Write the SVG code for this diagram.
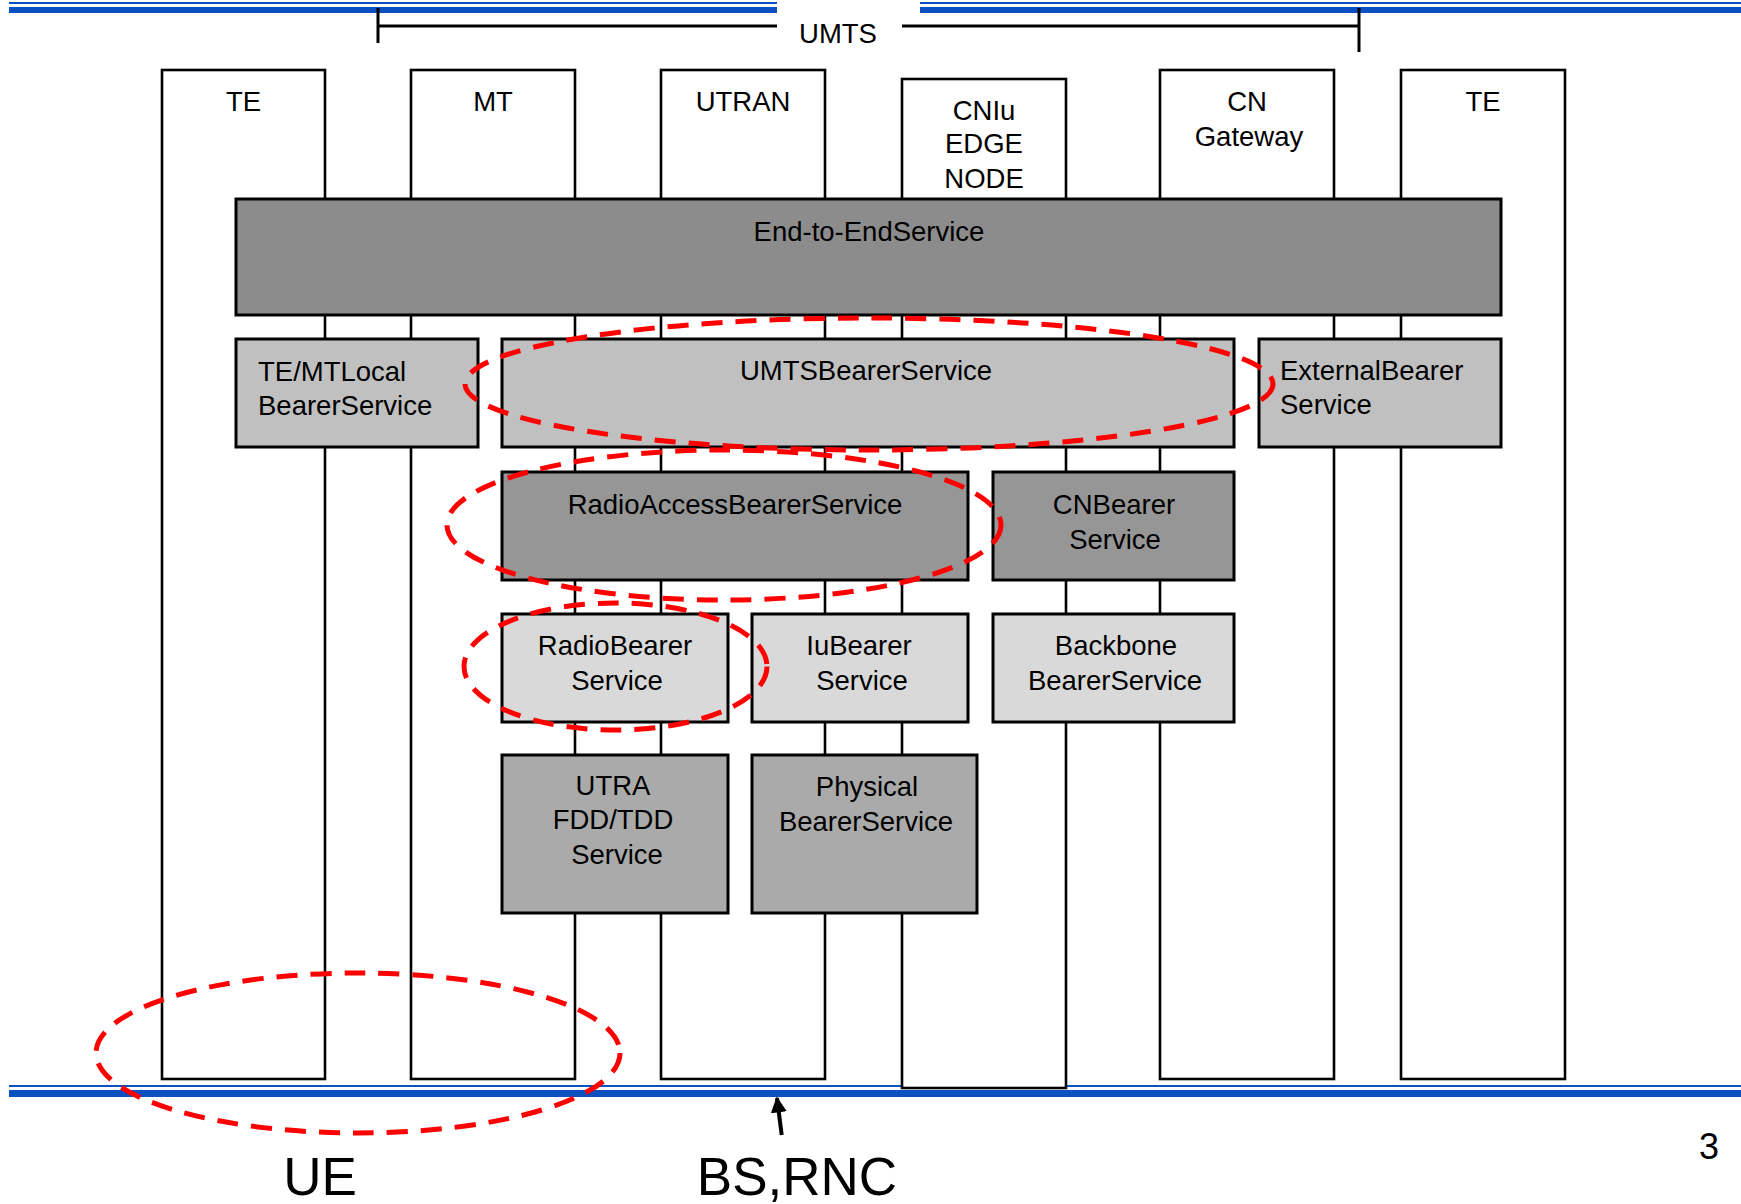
<svg xmlns="http://www.w3.org/2000/svg" width="1741" height="1204" viewBox="0 0 1741 1204">
  <defs>
    <style>
      text { font-family: "Liberation Sans", Arial, sans-serif; fill: #000; }
      .lbl { font-size: 27.5px; }
      .mid { text-anchor: middle; }
      .big { font-size: 53px; text-anchor: middle; }
      .col { fill: #fff; stroke: #000; stroke-width: 2.6; }
      .box { stroke: #000; stroke-width: 3; }
      .g1 { fill: #8c8c8c; }
      .g2 { fill: #c0c0c0; }
      .g3 { fill: #969696; }
      .g4 { fill: #d9d9d9; }
      .g5 { fill: #aaaaaa; }
      .rule { fill: #0b50c0; }
      .ring { fill: none; stroke: #ff0000; stroke-width: 5; stroke-dasharray: 21 13; }
      .brk { fill: none; stroke: #000; stroke-width: 3; }
    </style>
    <marker id="arrowhead" viewBox="0 0 10 10" refX="9" refY="5" markerWidth="4" markerHeight="4" orient="auto" markerUnits="strokeWidth">
      <path d="M0,0 L10,5 L0,10 z" fill="#000"/>
    </marker>
  </defs>

  <rect width="1741" height="1204" fill="#fff"/>

  <!-- page rules, top and bottom -->
  <g id="rules">
    <rect class="rule" x="9" y="2" width="768" height="2"/>
    <rect class="rule" x="9" y="7" width="768" height="6"/>
    <rect class="rule" x="920" y="2" width="821" height="2"/>
    <rect class="rule" x="920" y="7" width="821" height="6"/>
    <rect class="rule" x="9" y="1085" width="1732" height="2"/>
    <rect class="rule" x="9" y="1090" width="1732" height="7"/>
  </g>

  <!-- UMTS span bracket -->
  <g id="umts-span">
    <path class="brk" d="M378,8 V43 M378,26 H777 M902,26 H1359 M1359,8 V52"/>
    <text class="lbl mid" x="838" y="43">UMTS</text>
  </g>

  <!-- network element columns -->
  <g id="col-te-left">
    <rect class="col" x="162" y="70" width="163" height="1009"/>
    <text class="lbl mid" x="243.5" y="111">TE</text>
  </g>
  <g id="col-mt">
    <rect class="col" x="411" y="70" width="164" height="1009"/>
    <text class="lbl mid" x="493" y="111">MT</text>
  </g>
  <g id="col-utran">
    <rect class="col" x="661" y="70" width="164" height="1009"/>
    <text class="lbl mid" x="743" y="111">UTRAN</text>
  </g>
  <g id="col-cniu">
    <rect class="col" x="902" y="79" width="164" height="1009"/>
    <text class="lbl mid" x="984" y="120">CNIu</text>
    <text class="lbl mid" x="984" y="153">EDGE</text>
    <text class="lbl mid" x="984" y="188">NODE</text>
  </g>
  <g id="col-cn-gateway">
    <rect class="col" x="1160" y="70" width="174" height="1009"/>
    <text class="lbl mid" x="1247" y="111">CN</text>
    <text class="lbl mid" x="1249" y="146">Gateway</text>
  </g>
  <g id="col-te-right">
    <rect class="col" x="1401" y="70" width="164" height="1009"/>
    <text class="lbl mid" x="1483" y="111">TE</text>
  </g>

  <!-- bearer service boxes -->
  <g id="end-to-end">
    <rect class="box g1" x="236" y="199" width="1265" height="116"/>
    <text class="lbl mid" x="869" y="241">End-to-EndService</text>
  </g>
  <g id="te-mt-local">
    <rect class="box g2" x="236" y="339" width="242" height="108"/>
    <text class="lbl" x="258" y="381">TE/MTLocal</text>
    <text class="lbl" x="258" y="415">BearerService</text>
  </g>
  <g id="umts-bearer">
    <rect class="box g2" x="502" y="339" width="732" height="108"/>
    <text class="lbl mid" x="866" y="380">UMTSBearerService</text>
  </g>
  <g id="external-bearer">
    <rect class="box g2" x="1259" y="339" width="242" height="108"/>
    <text class="lbl" x="1280" y="380">ExternalBearer</text>
    <text class="lbl" x="1280" y="414">Service</text>
  </g>
  <g id="radio-access-bearer">
    <rect class="box g3" x="502" y="472" width="466" height="108"/>
    <text class="lbl mid" x="735" y="514">RadioAccessBearerService</text>
  </g>
  <g id="cn-bearer">
    <rect class="box g3" x="993" y="472" width="241" height="108"/>
    <text class="lbl mid" x="1114" y="514">CNBearer</text>
    <text class="lbl mid" x="1115" y="549">Service</text>
  </g>
  <g id="radio-bearer">
    <rect class="box g4" x="502" y="614" width="226" height="108"/>
    <text class="lbl mid" x="615" y="655">RadioBearer</text>
    <text class="lbl mid" x="617" y="690">Service</text>
  </g>
  <g id="iu-bearer">
    <rect class="box g4" x="752" y="614" width="216" height="108"/>
    <text class="lbl mid" x="859" y="655">IuBearer</text>
    <text class="lbl mid" x="862" y="690">Service</text>
  </g>
  <g id="backbone-bearer">
    <rect class="box g4" x="993" y="614" width="241" height="108"/>
    <text class="lbl mid" x="1116" y="655">Backbone</text>
    <text class="lbl mid" x="1115" y="690">BearerService</text>
  </g>
  <g id="utra-fdd-tdd">
    <rect class="box g5" x="502" y="755" width="226" height="158"/>
    <text class="lbl mid" x="613" y="795">UTRA</text>
    <text class="lbl mid" x="613" y="829">FDD/TDD</text>
    <text class="lbl mid" x="617" y="864">Service</text>
  </g>
  <g id="physical-bearer">
    <rect class="box g5" x="752" y="755" width="225" height="158"/>
    <text class="lbl mid" x="867" y="796">Physical</text>
    <text class="lbl mid" x="866" y="831">BearerService</text>
  </g>

  <!-- highlight rings -->
  <g id="highlights">
    <ellipse class="ring" cx="869" cy="384" rx="404" ry="66"/>
    <ellipse class="ring" cx="724" cy="525" rx="277" ry="75"/>
    <ellipse class="ring" cx="615.5" cy="666.5" rx="151.5" ry="63.5"/>
    <ellipse class="ring" cx="358" cy="1053" rx="262" ry="80"/>
  </g>

  <!-- pointer to the access network line -->
  <g id="connectors">
    <line x1="781.7" y1="1135" x2="777" y2="1098" stroke="#000" stroke-width="4" marker-end="url(#arrowhead)"/>
  </g>

  <!-- footer labels -->
  <g id="footer">
    <text class="big" x="320" y="1195">UE</text>
    <text class="big" x="797" y="1195">BS,RNC</text>
    <text x="1709" y="1159" font-size="36" text-anchor="middle">3</text>
  </g>
</svg>
